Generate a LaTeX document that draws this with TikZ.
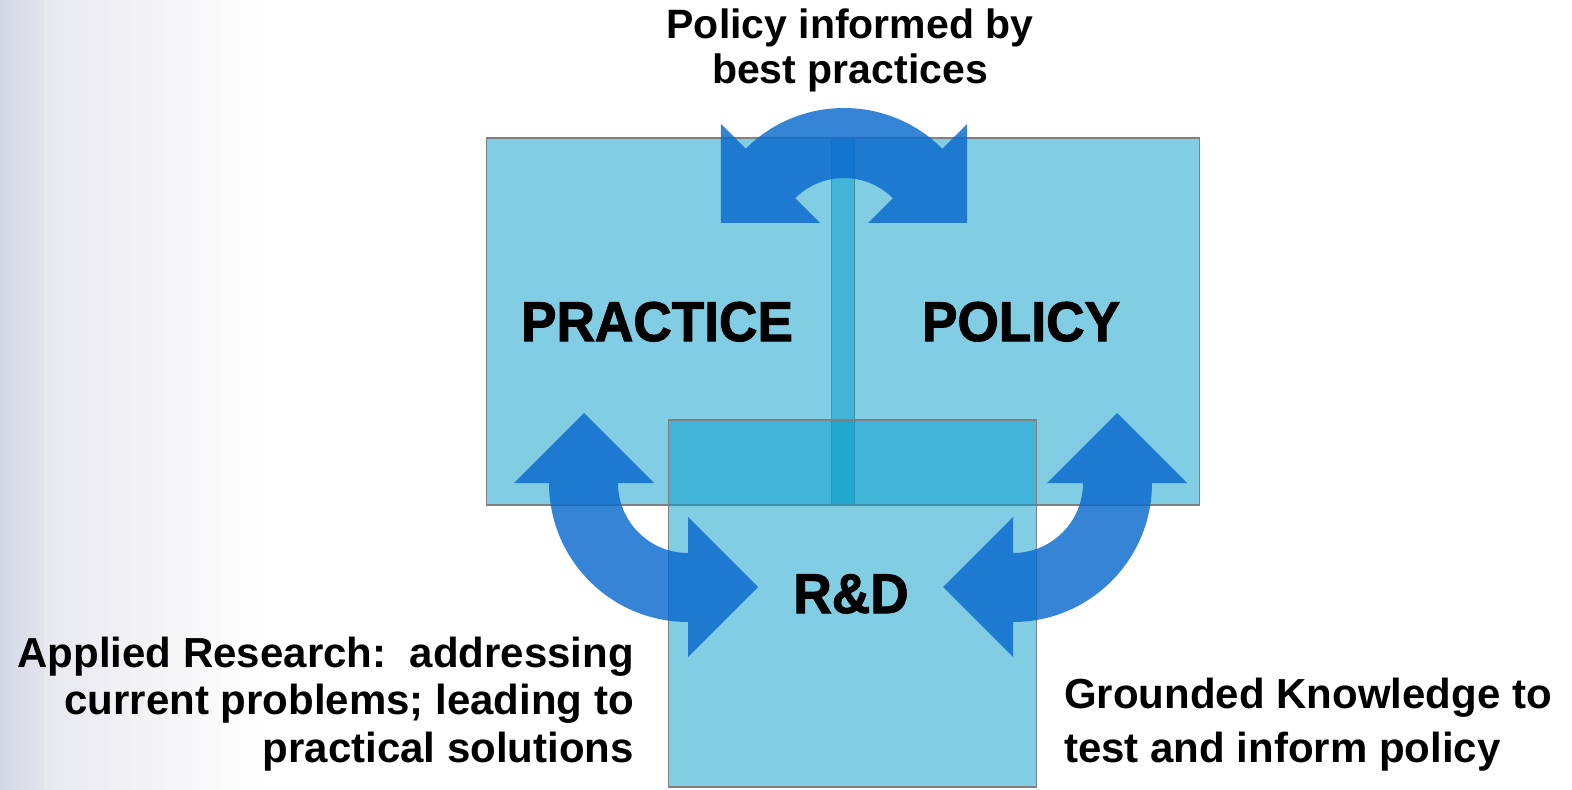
\documentclass[tikz,border=0pt]{standalone}
\usepackage{fontspec}
\setmainfont{Liberation Sans}
\newfontfamily\heavyfont{Liberation Sans}[FakeStretch=0.95, BoldFeatures={FakeBold=1.8}]
\usetikzlibrary{calc}

\definecolor{boxblue}{RGB}{3,155,202}
\definecolor{arrowblue}{RGB}{9,105,205}
\definecolor{bgstrip}{RGB}{212,216,228}
\definecolor{bgleft}{RGB}{227,227,236}

\tikzset{
  box/.style={draw=gray, line width=1.5pt, fill=boxblue, fill opacity=0.5,
    minimum width=368pt, minimum height=367pt, inner sep=0pt},
  bigword/.style={font=\heavyfont\bfseries\fontsize{56}{60}\selectfont, inner sep=0pt, anchor=base},
  turn/.style={fill=arrowblue, fill opacity=0.82},
}

\begin{document}
\begin{tikzpicture}[x=1pt, y=1pt]
\useasboundingbox (0,0) rectangle (1572,-790);
% faded backdrop on the left
\fill[left color=bgleft, right color=white] (0,0) rectangle (262,-790);
\fill[left color=bgstrip, right color=bgleft] (0,0) rectangle (44,-790);

% the three overlapping squares
\node[box] (practice) at (670.5,-321.5) {};
\node[box] (policy) at (1015.5,-321.5) {};
\node[box] (rd) at (852.5,-603.5) {};

% centres of the curved arrows
\coordinate (ctop) at (844,-247);
\coordinate (cleft) at (688,-483);
\coordinate (cright) at (1013,-483);

% practice <-> policy
\fill[turn] ($(ctop)+(135:139)$) arc[start angle=135, end angle=45, radius=139]
  -- ($(ctop)+(45:174)$) -- ($(ctop)+(45:104)+(-45:70)$) -- ($(ctop)+(45:34)$)
  -- ($(ctop)+(45:69)$) arc[start angle=45, end angle=135, radius=69]
  -- ($(ctop)+(135:34)$) -- ($(ctop)+(135:104)+(225:70)$) -- ($(ctop)+(135:174)$) -- cycle;

% practice <-> r&d
\fill[turn] ($(cleft)+(270:139)$) arc[start angle=270, end angle=180, radius=139]
  -- ($(cleft)+(180:174)$) -- ($(cleft)+(180:104)+(90:70)$) -- ($(cleft)+(180:34)$)
  -- ($(cleft)+(180:70)$) arc[start angle=180, end angle=270, radius=70]
  -- ($(cleft)+(270:34)$) -- ($(cleft)+(270:104)+(0:70)$) -- ($(cleft)+(270:174)$) -- cycle;

% policy <-> r&d
\fill[turn] ($(cright)+(0:139)$) arc[start angle=0, end angle=-90, radius=139]
  -- ($(cright)+(270:174)$) -- ($(cright)+(270:104)+(180:70)$) -- ($(cright)+(270:34)$)
  -- ($(cright)+(270:70)$) arc[start angle=-90, end angle=0, radius=70]
  -- ($(cright)+(0:34)$) -- ($(cright)+(0:104)+(90:70)$) -- ($(cright)+(0:174)$) -- cycle;

% box titles
\node[bigword] (practicetxt) at (657,-341) {PRACTICE};
\node[bigword] (policytxt) at (1021,-341) {POLICY};
\node[bigword] (rdtxt) at (851,-613) {R\&D};

% side notes (base = last line)
\node[font=\bfseries\fontsize{41}{45}\selectfont, inner sep=0pt, align=center, anchor=base]
  (toplbl) at (850,-83) {Policy informed by\\best practices};
\node[font=\bfseries\fontsize{42}{47.5}\selectfont, inner sep=0pt, align=right, anchor=base east]
  (leftlbl) at (634,-762) {Applied Research:\ \ addressing\\current problems; leading to\\practical solutions};
\node[font=\bfseries\fontsize{42}{54}\selectfont, inner sep=0pt, align=left, anchor=base west]
  (rightlbl) at (1064,-762) {Grounded Knowledge to\\test and inform policy};
\end{tikzpicture}
\end{document}
